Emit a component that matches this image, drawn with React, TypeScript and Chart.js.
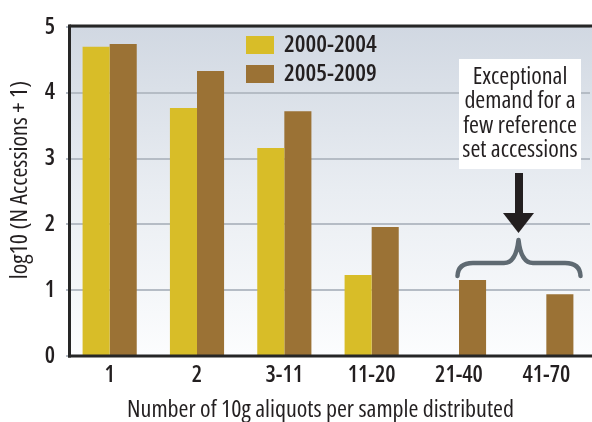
import React, { useEffect, useRef } from "react";
import { Chart, registerables } from "chart.js";

Chart.register(...registerables);

const categories = ["1", "2", "3-11", "11-20", "21-40", "41-70"];
const series2000_2004 = [4.7, 3.77, 3.16, 1.23, null, null];
const series2005_2009 = [4.74, 4.33, 3.72, 1.96, 1.155, 0.94];
const seriesLabels = ["2000-2004", "2005-2009"];
const seriesColors = ["#d8bd28", "#9b7235"];
const yTicks = [0, 1, 2, 3, 4, 5];
const yTitle = "log10 (N Accessions + 1)";
const xTitle = "Number of 10g aliquots per sample distributed";
const noteLines = ["Exceptional", "demand for a", "few reference", "set accessions"];

const FAMILY = "'Open Sans', 'DejaVu Sans Condensed', sans-serif";
const TEXT = "#231f20";

const decorPlugin = {
  id: "decor",
  beforeDraw(chart: any) {
    const { ctx, chartArea } = chart;
    const W = chart.width;
    ctx.save();
    const g = ctx.createLinearGradient(0, chartArea.top, 0, chartArea.bottom);
    g.addColorStop(0, "#d1d8e2");
    g.addColorStop(0.5, "#e9edf2");
    g.addColorStop(1, "#fcfdfe");
    ctx.fillStyle = g;
    ctx.fillRect(69, chartArea.top, W - 69, chartArea.bottom - chartArea.top);
    ctx.restore();
  },
  afterDatasetsDraw(chart: any) {
    const { ctx, chartArea } = chart;
    const W = chart.width;
    ctx.save();
    // frame lines
    ctx.strokeStyle = "#262626";
    ctx.lineWidth = 3;
    ctx.beginPath();
    ctx.moveTo(69.5, chartArea.top - 1);
    ctx.lineTo(W, chartArea.top - 1);
    ctx.stroke();
    ctx.beginPath();
    ctx.moveTo(69.5, chartArea.top - 2.5);
    ctx.lineTo(69.5, chartArea.bottom + 1.5);
    ctx.stroke();
    ctx.beginPath();
    ctx.moveTo(68, chartArea.bottom);
    ctx.lineTo(W, chartArea.bottom);
    ctx.stroke();

    // legend
    ctx.font = `600 condensed 24px ${FAMILY}`;
    ctx.textBaseline = "middle";
    ctx.textAlign = "left";
    chart.data.datasets.forEach((ds: any, i: number) => {
      const y = 36 + i * 29;
      ctx.fillStyle = ds.backgroundColor;
      ctx.fillRect(246, y, 28, 18);
      ctx.fillStyle = TEXT;
      ctx.fillText(ds.label, 284, y + 9);
    });

    // annotation box
    ctx.fillStyle = "#ffffff";
    ctx.fillRect(459, 59, 122, 110);
    ctx.fillStyle = TEXT;
    ctx.font = `condensed 24px ${FAMILY}`;
    ctx.textAlign = "center";
    noteLines.forEach((t, i) => {
      ctx.fillText(t, 520, 77 + i * 24.5);
    });

    // arrow
    ctx.fillStyle = TEXT;
    ctx.fillRect(515, 173, 8, 42);
    ctx.beginPath();
    ctx.moveTo(503, 213);
    ctx.lineTo(534, 213);
    ctx.lineTo(518.5, 233);
    ctx.closePath();
    ctx.fill();

    // brace
    ctx.strokeStyle = "#5f6a72";
    ctx.lineWidth = 4.5;
    ctx.lineCap = "round";
    ctx.lineJoin = "round";
    ctx.beginPath();
    ctx.moveTo(457.5, 276);
    ctx.quadraticCurveTo(458, 263, 473, 263);
    ctx.lineTo(504, 263);
    ctx.quadraticCurveTo(516, 263, 518.5, 240);
    ctx.quadraticCurveTo(521, 263, 533, 263);
    ctx.lineTo(565, 263);
    ctx.quadraticCurveTo(580, 263, 580.5, 276);
    ctx.stroke();

    // axis titles
    ctx.fillStyle = TEXT;
    ctx.font = `condensed 24px ${FAMILY}`;
    ctx.textAlign = "center";
    ctx.textBaseline = "middle";
    ctx.fillText(xTitle, 320.5, 410);
    ctx.translate(20, 180);
    ctx.rotate(-Math.PI / 2);
    ctx.fillText(yTitle, 0, 0);
    ctx.restore();
  },
};

export default function App() {
  const ref = useRef<HTMLCanvasElement | null>(null);

  useEffect(() => {
    document.body.style.margin = "0";
    const canvas = ref.current;
    if (!canvas) return;
    const chart = new Chart(canvas, {
      type: "bar",
      data: {
        labels: categories,
        datasets: [
          {
            label: seriesLabels[0],
            data: series2000_2004,
            backgroundColor: seriesColors[0],
            barPercentage: 1,
            categoryPercentage: 0.62,
          },
          {
            label: seriesLabels[1],
            data: series2005_2009,
            backgroundColor: seriesColors[1],
            barPercentage: 1,
            categoryPercentage: 0.62,
          },
        ],
      },
      options: {
        responsive: false,
        animation: false,
        devicePixelRatio: 1,
        layout: { padding: { top: 27, right: 2, left: 0, bottom: 0 } },
        plugins: {
          legend: { display: false },
          tooltip: { enabled: false },
        },
        scales: {
          x: {
            grid: { display: false, drawTicks: false },
            border: { display: false },
            ticks: {
              color: TEXT,
              padding: 6,
              font: { family: FAMILY, size: 23, weight: "600 condensed" as any },
              maxRotation: 0,
            },
            afterFit(scale: any) {
              scale.height = 66;
            },
          },
          y: {
            min: 0,
            max: 5,
            afterBuildTicks(scale: any) {
              scale.ticks = yTicks.map((v) => ({ value: v }));
            },
            grid: { color: "#b5bcc5", lineWidth: 2, drawTicks: false },
            border: { display: false },
            ticks: {
              color: TEXT,
              padding: 11,
              font: { family: FAMILY, size: 23, weight: "600 condensed" as any },
            },
            afterFit(scale: any) {
              scale.width = 66;
            },
          },
        },
      },
      plugins: [decorPlugin],
    });
    return () => chart.destroy();
  }, []);

  return (
    <div style={{ width: 592, height: 422 }}>
      <canvas ref={ref} width={592} height={422} style={{ display: "block" }} />
    </div>
  );
}
